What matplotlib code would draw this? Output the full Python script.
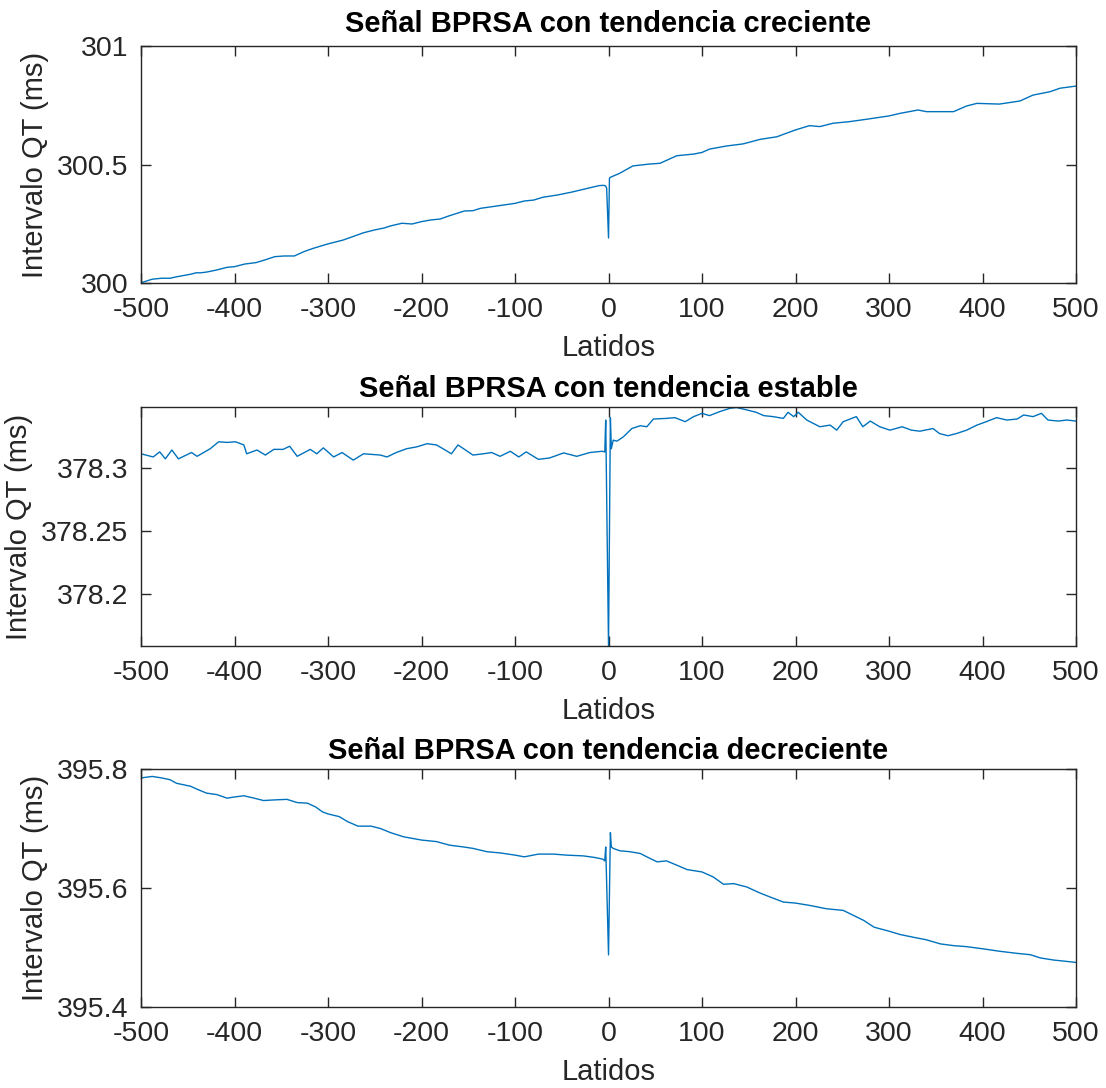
import numpy as np
import matplotlib
matplotlib.use("Agg")
import matplotlib.pyplot as plt

plt.rcParams['font.family'] = ['Liberation Sans', 'DejaVu Sans']
plt.rcParams['axes.unicode_minus'] = False

# Señal con tendencia creciente
lat1 = [-500, -488, -478, -469, -462, -447, -441, -436, -430, -420, -408, -400,
        -389, -377, -367, -357, -347, -336, -326, -316, -300, -284, -274, -262,
        -250, -240, -233, -221, -210, -200, -190, -180, -170, -154, -145, -137,
        -100, -90, -80, -70, -55, -40, -25, -10, -5, -3, -2, 0, 1, 2, 12, 26,
        44, 55, 73, 91, 100, 108, 126, 144, 162, 180, 200, 215, 226, 240, 258,
        276, 300, 312, 331, 340, 369, 383, 394, 418, 440, 454, 472, 483, 500]
qt1 = [300.001, 300.016, 300.020, 300.020, 300.026, 300.037, 300.043, 300.043,
       300.046, 300.054, 300.066, 300.069, 300.080, 300.086, 300.098, 300.111,
       300.114, 300.114, 300.132, 300.146, 300.165, 300.181, 300.195, 300.212,
       300.224, 300.232, 300.241, 300.252, 300.249, 300.259, 300.266, 300.270,
       300.284, 300.304, 300.305, 300.315, 300.336, 300.346, 300.350, 300.362,
       300.371, 300.383, 300.397, 300.411, 300.412, 300.409, 300.400, 300.190,
       300.442, 300.446, 300.463, 300.494, 300.502, 300.505, 300.537, 300.544,
       300.551, 300.565, 300.578, 300.587, 300.606, 300.617, 300.646, 300.664,
       300.660, 300.674, 300.681, 300.691, 300.705, 300.716, 300.730, 300.723,
       300.723, 300.747, 300.758, 300.755, 300.768, 300.793, 300.807, 300.822,
       300.831]

# Señal con tendencia estable
lat2 = [-500, -487, -480, -474, -467, -460, -446, -440, -426, -417, -408, -399,
        -390, -387, -376, -367, -358, -348, -341, -333, -319, -312, -305, -294,
        -285, -273, -262, -244, -237, -227, -216, -205, -194, -184, -177, -168,
        -161, -145, -134, -125, -116, -105, -96, -88, -75, -63, -48, -34, -20,
        -7, -4, -3, 0, 2, 3, 5, 9, 16, 25, 34, 41, 48, 62, 71, 82, 91, 100, 108,
        119, 130, 137, 148, 158, 166, 176, 187, 192, 198, 203, 212, 226, 237,
        244, 251, 265, 272, 280, 290, 301, 314, 324, 333, 347, 354, 363, 372,
        383, 394, 404, 415, 426, 437, 444, 454, 463, 470, 481, 490, 500]
qt2 = [378.311, 378.3085, 378.3125, 378.307, 378.314, 378.307, 378.312, 378.309,
       378.315, 378.3205, 378.320, 378.3205, 378.318, 378.311, 378.314, 378.310,
       378.3145, 378.3145, 378.317, 378.309, 378.3145, 378.311, 378.3157,
       378.3085, 378.312, 378.306, 378.311, 378.310, 378.3085, 378.312, 378.315,
       378.3165, 378.319, 378.318, 378.315, 378.311, 378.318, 378.310, 378.311,
       378.312, 378.309, 378.313, 378.3085, 378.3125, 378.3066, 378.3077,
       378.3117, 378.309, 378.312, 378.313, 378.3125, 378.3377, 378.159,
       378.3396, 378.315, 378.3218, 378.321, 378.3245, 378.331, 378.3332,
       378.3324, 378.3385, 378.339, 378.3396, 378.3364, 378.3404, 378.343,
       378.3412, 378.3444, 378.347, 378.3476, 378.3457, 378.3438, 378.3412,
       378.3404, 378.339, 378.3438, 378.3404, 378.3438, 378.3377, 378.3324,
       378.3337, 378.3297, 378.3364, 378.3404, 378.3324, 378.3369, 378.3324,
       378.3297, 378.3324, 378.3297, 378.3289, 378.331, 378.327, 378.3253,
       378.327, 378.3297, 378.3337, 378.3364, 378.3396, 378.3377, 378.3385,
       378.3417, 378.3404, 378.343, 378.3377, 378.3369, 378.3377, 378.3369]

# Señal con tendencia decreciente
lat3 = [-500, -488, -478, -469, -462, -447, -440, -430, -419, -408, -400, -390,
        -379, -369, -358, -344, -333, -322, -313, -306, -300, -288, -279, -268,
        -254, -244, -233, -219, -200, -184, -170, -155, -145, -130, -116, -100,
        -90, -75, -59, -45, -27, -15, -6, -4, -3, 0, 2, 3, 5, 12, 23, 34, 44,
        52, 62, 73, 84, 100, 112, 123, 134, 148, 162, 173, 187, 200, 215, 233,
        251, 262, 273, 284, 300, 312, 326, 340, 355, 369, 383, 401, 419, 437,
        451, 462, 476, 490, 500]
qt3 = [395.785, 395.7875, 395.785, 395.782, 395.776, 395.771, 395.766, 395.7595,
       395.757, 395.751, 395.753, 395.755, 395.751, 395.747, 395.748, 395.749,
       395.7436, 395.7426, 395.736, 395.728, 395.7245, 395.720, 395.7115,
       395.704, 395.704, 395.700, 395.693, 395.686, 395.6806, 395.678, 395.672,
       395.669, 395.6666, 395.661, 395.659, 395.6553, 395.6524, 395.657, 395.657,
       395.6553, 395.654, 395.6514, 395.6485, 395.6456, 395.669, 395.4876,
       395.693, 395.669, 395.6666, 395.6626, 395.661, 395.658, 395.650, 395.644,
       395.6456, 395.6384, 395.631, 395.627, 395.6186, 395.6063, 395.6074,
       395.6017, 395.5916, 395.5848, 395.5764, 395.5747, 395.5708, 395.5652,
       395.5624, 395.554, 395.5455, 395.5342, 395.5275, 395.5218, 395.5173,
       395.513, 395.5061, 395.5032, 395.5015, 395.4977, 395.4936, 395.4902,
       395.488, 395.4825, 395.479, 395.4767, 395.475]

titles = ['Señal BPRSA con tendencia creciente',
          'Señal BPRSA con tendencia estable',
          'Señal BPRSA con tendencia decreciente']
ylims = [(300, 301), (378.159, 378.348), (395.4, 395.8)]
yticks = [[300, 300.5, 301], [378.2, 378.25, 378.3], [395.4, 395.6, 395.8]]
yticklabels = [['300', '300.5', '301'], ['378.2', '378.25', '378.3'],
               ['395.4', '395.6', '395.8']]
xticks = list(range(-500, 501, 100))

fig = plt.figure(figsize=(11.06, 10.88), dpi=100)
boxes = [[0.1275, 0.7399, 0.8454, 0.2178],
         [0.1275, 0.4063, 0.8454, 0.2196],
         [0.1275, 0.0744, 0.8454, 0.2188]]
title_pads = [10, 7, 7]
data = [(lat1, qt1), (lat2, qt2), (lat3, qt3)]
grey = '#262626'

for i in range(3):
    ax = fig.add_axes(boxes[i])
    ax.plot(data[i][0], data[i][1], color='#0072BD', lw=1.0)
    ax.set_xlim(-500, 500)
    ax.set_ylim(*ylims[i])
    ax.set_xticks(xticks)
    ax.set_yticks(yticks[i])
    ax.set_yticklabels(yticklabels[i])
    ax.tick_params(direction='in', top=True, right=True, length=7, width=1,
                   labelsize=20.5, colors=grey)
    ax.tick_params(axis='x', pad=10)
    ax.tick_params(axis='y', pad=9)
    for s in ax.spines.values():
        s.set_color(grey)
        s.set_linewidth(1)
    ax.set_title(titles[i], fontsize=21, fontweight='bold', pad=title_pads[i])
    ax.set_xlabel('Latidos', fontsize=21, color=grey, labelpad=8)
    ax.set_ylabel('Intervalo QT (ms)', fontsize=21, color=grey, labelpad=6)

fig.savefig('out.png', dpi=100)
